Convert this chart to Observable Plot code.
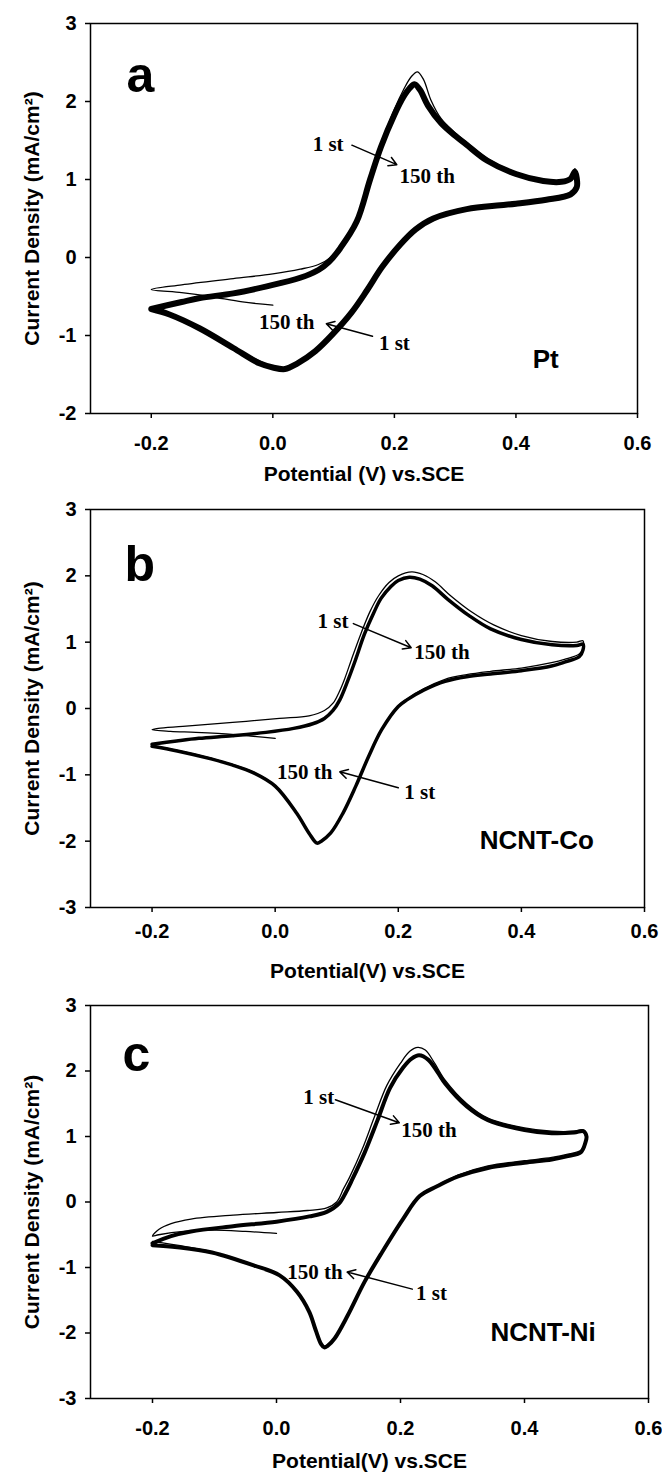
<!DOCTYPE html>
<html>
<head>
<meta charset="utf-8">
<script src="https://cdn.jsdelivr.net/npm/d3@7"></script>
<script src="https://cdn.jsdelivr.net/npm/@observablehq/plot@0.6"></script>
<style>
  body { margin: 0; background: #ffffff; }
  #chart svg { display: block; }
</style>
</head>
<body>
<div id="chart"></div>
<script>
// ---------- tick values ----------
const xTicks = [-0.2, 0.0, 0.2, 0.4, 0.6];
const yTicksA = [-2, -1, 0, 1, 2, 3];
const yTicksBC = [-3, -2, -1, 0, 1, 2, 3];

// ---------- panel a (Pt) : [potential V, current density mA/cm2] ----------
const aCycle150 = [[-0.2,-0.66],[-0.15,-0.57],[-0.12,-0.52],[-0.065,-0.46],[-0.01,-0.37],[0.045,-0.26],[0.075,-0.16],[0.092,-0.06],[0.111,0.12],[0.138,0.46],[0.16,1.0],[0.178,1.42],[0.2,1.83],[0.215,2.06],[0.225,2.17],[0.233,2.22],[0.242,2.15],[0.255,1.95],[0.277,1.72],[0.3,1.56],[0.318,1.45],[0.353,1.24],[0.4,1.07],[0.445,0.98],[0.475,0.97],[0.49,1.01],[0.497,1.1],[0.5,1.02],[0.5,0.9],[0.49,0.81],[0.45,0.74],[0.4,0.69],[0.374,0.67],[0.319,0.62],[0.264,0.5],[0.235,0.36],[0.209,0.16],[0.18,-0.12],[0.155,-0.42],[0.13,-0.7],[0.1,-0.97],[0.07,-1.2],[0.04,-1.36],[0.02,-1.43],[0.0,-1.41],[-0.021,-1.36],[-0.065,-1.16],[-0.12,-0.91],[-0.17,-0.73],[-0.2,-0.66]];
const aCycle1 = [[0.0,-0.61],[-0.05,-0.57],[-0.103,-0.5],[-0.15,-0.45],[-0.2,-0.41],[-0.15,-0.35],[-0.065,-0.27],[0.0,-0.21],[0.045,-0.15],[0.075,-0.09],[0.095,0.0],[0.115,0.2],[0.138,0.5],[0.16,1.02],[0.178,1.45],[0.2,1.9],[0.215,2.15],[0.228,2.32],[0.238,2.38],[0.248,2.28],[0.26,2.02],[0.277,1.78],[0.3,1.6],[0.318,1.48],[0.353,1.27],[0.4,1.09],[0.445,1.0],[0.475,0.99],[0.49,1.03],[0.497,1.14],[0.5,1.05],[0.5,0.9],[0.49,0.82],[0.45,0.75],[0.4,0.7],[0.319,0.63],[0.264,0.51],[0.235,0.37],[0.209,0.17],[0.18,-0.11],[0.155,-0.41],[0.13,-0.69],[0.1,-0.96],[0.07,-1.19],[0.04,-1.35],[0.02,-1.42],[0.0,-1.4],[-0.065,-1.15],[-0.12,-0.9],[-0.2,-0.65]];

// ---------- panel b (NCNT-Co) ----------
const bCycle150 = [[-0.2,-0.54],[-0.16,-0.49],[-0.124,-0.45],[-0.07,-0.41],[-0.015,-0.36],[0.03,-0.3],[0.061,-0.23],[0.08,-0.15],[0.094,-0.03],[0.105,0.13],[0.118,0.42],[0.13,0.72],[0.145,1.12],[0.16,1.44],[0.172,1.66],[0.188,1.84],[0.2,1.93],[0.218,1.98],[0.235,1.95],[0.255,1.85],[0.28,1.65],[0.315,1.4],[0.35,1.2],[0.4,1.04],[0.45,0.96],[0.49,0.95],[0.5,0.97],[0.5,0.88],[0.494,0.78],[0.47,0.7],[0.449,0.64],[0.4,0.57],[0.35,0.52],[0.311,0.48],[0.276,0.41],[0.242,0.28],[0.214,0.13],[0.2,0.03],[0.173,-0.32],[0.152,-0.72],[0.131,-1.17],[0.11,-1.58],[0.09,-1.88],[0.075,-2.0],[0.068,-2.03],[0.055,-1.88],[0.035,-1.58],[0.0,-1.17],[-0.035,-0.97],[-0.07,-0.85],[-0.104,-0.76],[-0.159,-0.64],[-0.2,-0.57]];
const bCycle1 = [[0.0,-0.45],[-0.035,-0.42],[-0.07,-0.39],[-0.129,-0.36],[-0.17,-0.345],[-0.2,-0.32],[-0.19,-0.3],[-0.15,-0.27],[-0.069,-0.21],[0.007,-0.15],[0.055,-0.11],[0.08,-0.03],[0.094,0.08],[0.104,0.25],[0.113,0.45],[0.124,0.74],[0.139,1.12],[0.154,1.46],[0.168,1.7],[0.185,1.9],[0.2,2.0],[0.222,2.06],[0.24,2.02],[0.26,1.91],[0.285,1.7],[0.32,1.45],[0.355,1.26],[0.4,1.1],[0.45,1.01],[0.49,1.0],[0.5,1.02],[0.5,0.9],[0.494,0.82],[0.47,0.74],[0.449,0.69],[0.4,0.61],[0.35,0.56],[0.311,0.51],[0.276,0.44],[0.242,0.3],[0.214,0.14],[0.2,0.04],[0.173,-0.31],[0.152,-0.71],[0.131,-1.16],[0.11,-1.57],[0.09,-1.87],[0.075,-1.99],[0.068,-2.02],[0.055,-1.87],[0.035,-1.57],[0.0,-1.16],[-0.035,-0.96],[-0.104,-0.75],[-0.159,-0.63],[-0.2,-0.56]];

// ---------- panel c (NCNT-Ni) ----------
const cCycle150 = [[-0.2,-0.63],[-0.17,-0.52],[-0.138,-0.45],[-0.07,-0.37],[0.0,-0.3],[0.053,-0.22],[0.081,-0.15],[0.101,-0.02],[0.112,0.15],[0.122,0.34],[0.142,0.75],[0.163,1.25],[0.183,1.74],[0.204,2.05],[0.218,2.19],[0.23,2.24],[0.245,2.17],[0.26,1.98],[0.272,1.81],[0.307,1.46],[0.341,1.25],[0.4,1.1],[0.444,1.05],[0.48,1.06],[0.495,1.08],[0.5,1.0],[0.498,0.9],[0.491,0.76],[0.47,0.7],[0.444,0.65],[0.4,0.6],[0.341,0.52],[0.293,0.39],[0.259,0.24],[0.231,0.09],[0.204,-0.26],[0.17,-0.77],[0.142,-1.22],[0.115,-1.73],[0.094,-2.08],[0.082,-2.2],[0.077,-2.22],[0.072,-2.17],[0.063,-1.95],[0.053,-1.68],[0.033,-1.37],[0.005,-1.12],[-0.036,-0.97],[-0.104,-0.77],[-0.16,-0.69],[-0.2,-0.66]];
const cCycle1 = [[0.0,-0.48],[-0.05,-0.45],[-0.1,-0.43],[-0.15,-0.45],[-0.19,-0.5],[-0.2,-0.52],[-0.19,-0.42],[-0.17,-0.33],[-0.138,-0.26],[-0.07,-0.2],[0.0,-0.16],[0.05,-0.13],[0.081,-0.09],[0.097,0.0],[0.108,0.2],[0.118,0.38],[0.138,0.8],[0.158,1.3],[0.178,1.78],[0.2,2.12],[0.215,2.3],[0.228,2.36],[0.24,2.32],[0.255,2.12],[0.272,1.86],[0.307,1.5],[0.341,1.28],[0.4,1.13],[0.444,1.08],[0.48,1.08],[0.495,1.1],[0.5,1.02],[0.498,0.9],[0.491,0.79],[0.47,0.73],[0.444,0.68],[0.4,0.63],[0.341,0.55],[0.293,0.41],[0.259,0.25],[0.231,0.1],[0.204,-0.25],[0.17,-0.76],[0.142,-1.21],[0.115,-1.72],[0.094,-2.07],[0.077,-2.2],[0.072,-2.16],[0.053,-1.67],[0.033,-1.36],[0.005,-1.11],[-0.036,-0.96],[-0.104,-0.76],[-0.2,-0.6]];

// ---------- annotation text & anchors (data coordinates) ----------
const xLabels = ["Potential (V) vs.SCE", "Potential(V) vs.SCE", "Potential(V) vs.SCE"];
const yLabel = "Current Density (mA/cm²)";
const panelLetters = [{x: -0.218, y: 2.33, t: "a"}, {x: -0.22, y: 2.17, t: "b"}, {x: -0.226, y: 2.25, t: "c"}];
const sampleNames = [{x: 0.449, y: -1.31, t: "Pt"}, {x: 0.425, y: -2.0, t: "NCNT-Co"}, {x: 0.43, y: -2.0, t: "NCNT-Ni"}];
const aNotes = [{x: 0.091, y: 1.45, t: "1 st"}, {x: 0.254, y: 1.04, t: "150 th"}, {x: 0.023, y: -0.83, t: "150 th"}, {x: 0.20, y: -1.10, t: "1 st"}];
const bNotes = [{x: 0.094, y: 1.31, t: "1 st"}, {x: 0.271, y: 0.855, t: "150 th"}, {x: 0.048, y: -0.955, t: "150 th"}, {x: 0.235, y: -1.27, t: "1 st"}];
const cNotes = [{x: 0.068, y: 1.60, t: "1 st"}, {x: 0.246, y: 1.09, t: "150 th"}, {x: 0.062, y: -1.07, t: "150 th"}, {x: 0.25, y: -1.40, t: "1 st"}];
const aArrows = [{x1: 0.130, y1: 1.44, x2: 0.204, y2: 1.19}, {x1: 0.164, y1: -1.01, x2: 0.088, y2: -0.85}];
const bArrows = [{x1: 0.127, y1: 1.28, x2: 0.221, y2: 0.915}, {x1: 0.200, y1: -1.196, x2: 0.105, y2: -0.955}];
const cArrows = [{x1: 0.095, y1: 1.56, x2: 0.198, y2: 1.21}, {x1: 0.219, y1: -1.33, x2: 0.114, y2: -1.07}];

const SANS = '"Liberation Sans", Arial, Helvetica, sans-serif';
const SERIF = '"Liberation Serif", "Times New Roman", Times, serif';

function panel(cfg) {
  const px = d => d[0], py = d => d[1];
  return Plot.plot({
    width: 662,
    height: cfg.height,
    marginLeft: 90,
    marginRight: cfg.marginRight,
    marginTop: cfg.marginTop,
    marginBottom: cfg.marginBottom,
    style: {fontFamily: SANS, fontSize: "20px", fontWeight: "bold", color: "black", background: "white", overflow: "visible"},
    x: {domain: [-0.3, 0.6]},
    y: {domain: cfg.yDomain},
    marks: [
      Plot.line(cfg.cycle150, {x: px, y: py, stroke: "black", strokeWidth: cfg.thick, curve: "catmull-rom", strokeLinejoin: "round"}),
      Plot.line(cfg.cycle1, {x: px, y: py, stroke: "black", strokeWidth: 1.3, curve: "catmull-rom", strokeLinejoin: "round"}),
      Plot.arrow(cfg.arrows, {x1: "x1", y1: "y1", x2: "x2", y2: "y2", stroke: "black", strokeWidth: 1.5, headLength: 9}),
      Plot.text(cfg.notes, {x: "x", y: "y", text: "t", fontFamily: SERIF, fontSize: 21, fontWeight: "bold", fill: "black"}),
      Plot.text([cfg.letter], {x: "x", y: "y", text: "t", fontFamily: SANS, fontSize: 50, fontWeight: "bold", fill: "black"}),
      Plot.text([cfg.name], {x: "x", y: "y", text: "t", fontFamily: SANS, fontSize: 26, fontWeight: "bold", fill: "black"}),
      Plot.frame({stroke: "black", strokeWidth: 1.5}),
      Plot.axisX({ticks: xTicks, tickFormat: d => d.toFixed(1), tickSize: 5, tickPadding: cfg.xPad, strokeWidth: 1.5, label: null}),
      Plot.axisY({ticks: cfg.yTicks, tickFormat: d => String(d), tickSize: 5, tickPadding: 9, strokeWidth: 1.5, label: null}),
      Plot.text([cfg.xLabel], {frameAnchor: "bottom", textAnchor: "middle", dy: cfg.xLabelDy, text: d => d, fontSize: 21, fontWeight: "bold", fill: "black"}),
      Plot.text([yLabel], {frameAnchor: "left", textAnchor: "middle", dx: -58, rotate: -90, text: d => d, fontSize: 21, fontWeight: "bold", fill: "black"})
    ]
  });
}

const root = document.getElementById("chart");
root.append(panel({
  height: 492, marginTop: 23, marginBottom: 79, marginRight: 25,
  yDomain: [-2, 3], yTicks: yTicksA, thick: 6, xPad: 17,
  cycle150: aCycle150, cycle1: aCycle1, notes: aNotes, arrows: aArrows,
  letter: panelLetters[0], name: sampleNames[0], xLabel: xLabels[0], xLabelDy: 67
}));
root.append(panel({
  height: 498, marginTop: 17, marginBottom: 83, marginRight: 18,
  yDomain: [-3, 3], yTicks: yTicksBC, thick: 3.5, xPad: 11,
  cycle150: bCycle150, cycle1: bCycle1, notes: bNotes, arrows: bArrows,
  letter: panelLetters[1], name: sampleNames[1], xLabel: xLabels[1], xLabelDy: 70
}));
root.append(panel({
  height: 489, marginTop: 15, marginBottom: 81, marginRight: 14,
  yDomain: [-3, 3], yTicks: yTicksBC, thick: 4, xPad: 17,
  cycle150: cCycle150, cycle1: cCycle1, notes: cNotes, arrows: cArrows,
  letter: panelLetters[2], name: sampleNames[2], xLabel: xLabels[2], xLabelDy: 69
}));
</script>
</body>
</html>
